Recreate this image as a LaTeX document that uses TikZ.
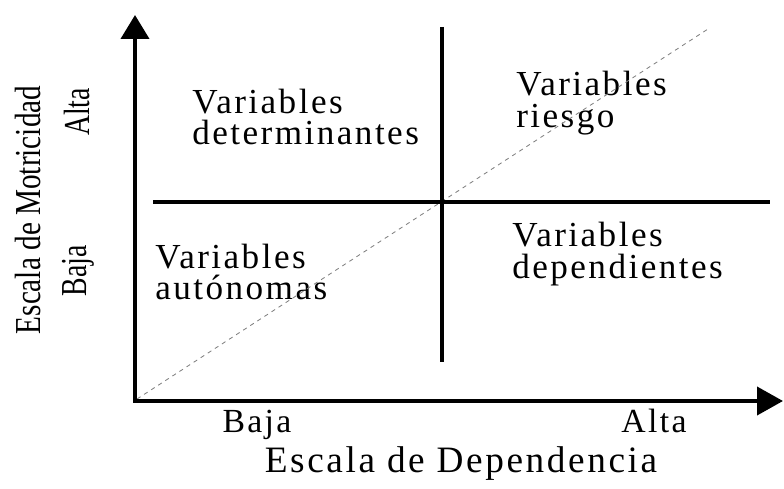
\documentclass[tikz,border=0pt]{standalone}
\usepackage{fontspec}
\setmainfont{Liberation Serif}
\newfontfamily\espaciada[LetterSpace=7]{Liberation Serif}
\usetikzlibrary{positioning}
\usetikzlibrary{arrows.meta}

\begin{document}
\begin{tikzpicture}[every node/.style={inner sep=0pt, font=\espaciada\fontsize{25}{22.5}\selectfont},
  eje/.style={line width=2.8pt, line join=miter, {Triangle[length=0.6cm,width=0.7cm]}-{Triangle[length=0.65cm,width=0.7cm]}},
  division/.style={line width=3.2pt},
  diagonal/.style={gray, line width=0.6pt, dash pattern=on 3pt off 3pt},
  vertical/.style={rotate=90, font=\fontsize{26}{26}\selectfont}]
              \useasboundingbox (0,0) rectangle (19.6,12.2);
              % Puntos
              \coordinate (o) at (3.375,2.175);
              \coordinate (ytip) at (3.375,11.825);
              \coordinate (xtip) at (19.575,2.175);
              \coordinate (va) at (11.05,11.525);
              \coordinate (vb) at (11.05,3.15);
              \coordinate (hi) at (3.825,7.15);
              \coordinate (hd) at (19.25,7.15);
              \coordinate (d0) at (3.425,2.225);
              \coordinate (d1) at (17.7,11.475);

              % Textos
              \node[align=left, anchor=west] (det) at (4.8,9.275) {Variables\\determinantes};
              \node[align=left, anchor=west] (rie) at (12.9,9.625) {Variables\\riesgo};
              \node[align=left, anchor=west] (aut) at (3.875,5.4) {Variables\\autónomas};
              \node[align=left, anchor=west] (dep) at (12.8,5.85) {Variables\\dependientes};
              \node[anchor=base, font=\espaciada\fontsize{24}{24}\selectfont] (xbaja) at (6.425,1.4) {Baja};
              \node[anchor=base, font=\espaciada\fontsize{24}{24}\selectfont] (xalta) at (16.35,1.4) {Alta};
              \node[anchor=base, font=\espaciada\fontsize{26.5}{26.5}\selectfont] (xeje) at (11.525,0.4) {Escala de Dependencia};
              \node[vertical] (yeje) at (0.7,6.95) {\scalebox{0.8}[1]{Escala de Motricidad}};
              \node[vertical] (yalta) at (1.925,9.4) {\scalebox{0.76}[1]{Alta}};
              \node[vertical] (ybaja) at (1.95,5.425) {\scalebox{0.76}[1]{Baja}};

              % Lineas
              \draw[diagonal] (d0) -- (d1);
              \draw[eje] (ytip) -- (o) -- (xtip);
              \draw[division] (va) -- (vb);
              \draw[division] (hi) -- (hd);
            \end{tikzpicture}
\end{document}
